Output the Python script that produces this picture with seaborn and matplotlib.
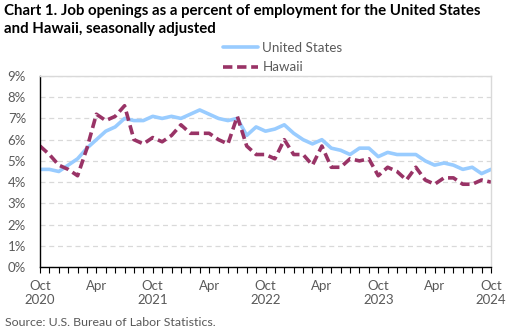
import numpy as np
import pandas as pd
import matplotlib
matplotlib.use("Agg")
import matplotlib.pyplot as plt
import seaborn as sns
from matplotlib.ticker import MultipleLocator, FixedLocator, FuncFormatter
from matplotlib.lines import Line2D

# Monthly data, Oct 2020 - Oct 2024 (percent)
us = [4.6, 4.6, 4.5, 4.8, 5.1, 5.6, 6.0, 6.4, 6.6, 7.0, 6.9, 6.9,
      7.1, 7.0, 7.1, 7.0, 7.2, 7.4, 7.2, 7.0, 6.9, 7.0, 6.2, 6.6,
      6.4, 6.5, 6.7, 6.3, 6.0, 5.8, 6.0, 5.6, 5.5, 5.3, 5.6, 5.6,
      5.2, 5.4, 5.3, 5.3, 5.3, 5.0, 4.8, 4.9, 4.8, 4.6, 4.7, 4.4, 4.6]
hawaii = [5.7, 5.3, 4.8, 4.6, 4.3, 5.6, 7.2, 6.9, 7.1, 7.6, 6.0, 5.8,
          6.1, 5.9, 6.2, 6.7, 6.3, 6.3, 6.3, 6.0, 5.8, 7.1, 5.7, 5.3,
          5.3, 5.1, 6.0, 5.3, 5.3, 4.8, 5.7, 4.7, 4.7, 5.1, 5.0, 5.1,
          4.3, 4.7, 4.5, 4.1, 4.7, 4.1, 3.9, 4.2, 4.2, 3.9, 3.9, 4.1, 4.0]
major_labels = ["Oct\n2020", "Apr", "Oct\n2021", "Apr", "Oct\n2022", "Apr",
                "Oct\n2023", "Apr", "Oct\n2024"]
series_names = ["United States", "Hawaii"]
title = ("Chart 1. Job openings as a percent of employment for the United States\n"
         "and Hawaii, seasonally adjusted")
source = "Source: U.S. Bureau of Labor Statistics."

n = len(us)
df = pd.DataFrame({
    "month": list(range(n)) * 2,
    "value": us + hawaii,
    "series": [series_names[0]] * n + [series_names[1]] * n,
})

sns.set_style("white")
plt.rcParams["font.family"] = ["Lato", "DejaVu Sans"]

fig = plt.figure(figsize=(5.21, 3.32), dpi=100)
ax = fig.add_axes([40 / 521, 1 - 267 / 332, 451 / 521, 191 / 332])

gray = "#595959"
us_color = "#99CCFF"
hi_color = "#993366"
sns.lineplot(data=df, x="month", y="value", hue="series", style="series",
             palette={"United States": us_color, "Hawaii": hi_color},
             dashes={"United States": "", "Hawaii": (2.6, 1.3)},
             linewidth=2.6, ax=ax, legend=False)

ax.set_xlim(0, n - 1)
ax.set_ylim(0, 9)
ax.yaxis.set_major_locator(MultipleLocator(1))
ax.yaxis.set_major_formatter(FuncFormatter(lambda v, p: f"{int(round(v))}%"))
ax.xaxis.set_major_locator(FixedLocator(list(range(0, n, 6))))
ax.set_xticklabels(major_labels)
ax.xaxis.set_minor_locator(MultipleLocator(1))
ax.set_xlabel("")
ax.set_ylabel("")

ax.grid(axis="y", color="#D9D9D9", linestyle=(0, (4, 3)), linewidth=0.9)
ax.set_axisbelow(True)
for s in ["top", "right"]:
    ax.spines[s].set_color("#D9D9D9")
    ax.spines[s].set_linewidth(1)
for s in ["left", "bottom"]:
    ax.spines[s].set_color("black")
    ax.spines[s].set_linewidth(1)

ax.tick_params(axis="x", which="both", direction="out", length=4, width=0.8,
               color="black", labelsize=9.5, labelcolor=gray, pad=5, bottom=True)
ax.tick_params(axis="y", which="major", length=0, labelsize=9.5,
               labelcolor=gray, pad=10)

# Legend
handles = [Line2D([], [], color=us_color, lw=2.6),
           Line2D([], [], color=hi_color, lw=2.6, dashes=(2.6, 1.3))]
fig.legend(handles, series_names, loc="center left",
           bbox_to_anchor=(223 / 521, 1 - 57.5 / 332), frameon=False,
           fontsize=9.6, labelcolor=gray, handlelength=2.6, handletextpad=0.35,
           labelspacing=0.55, borderaxespad=0, borderpad=0)

fig.text(4 / 521, 1 - 4 / 332, title, ha="left", va="top", fontsize=10.8,
         fontweight="bold", color="black", linespacing=1.35)
fig.text(5 / 521, 1 - 323 / 332, source, ha="left", va="center",
         fontsize=8.9, color=gray)

fig.savefig("out.png", dpi=100)
